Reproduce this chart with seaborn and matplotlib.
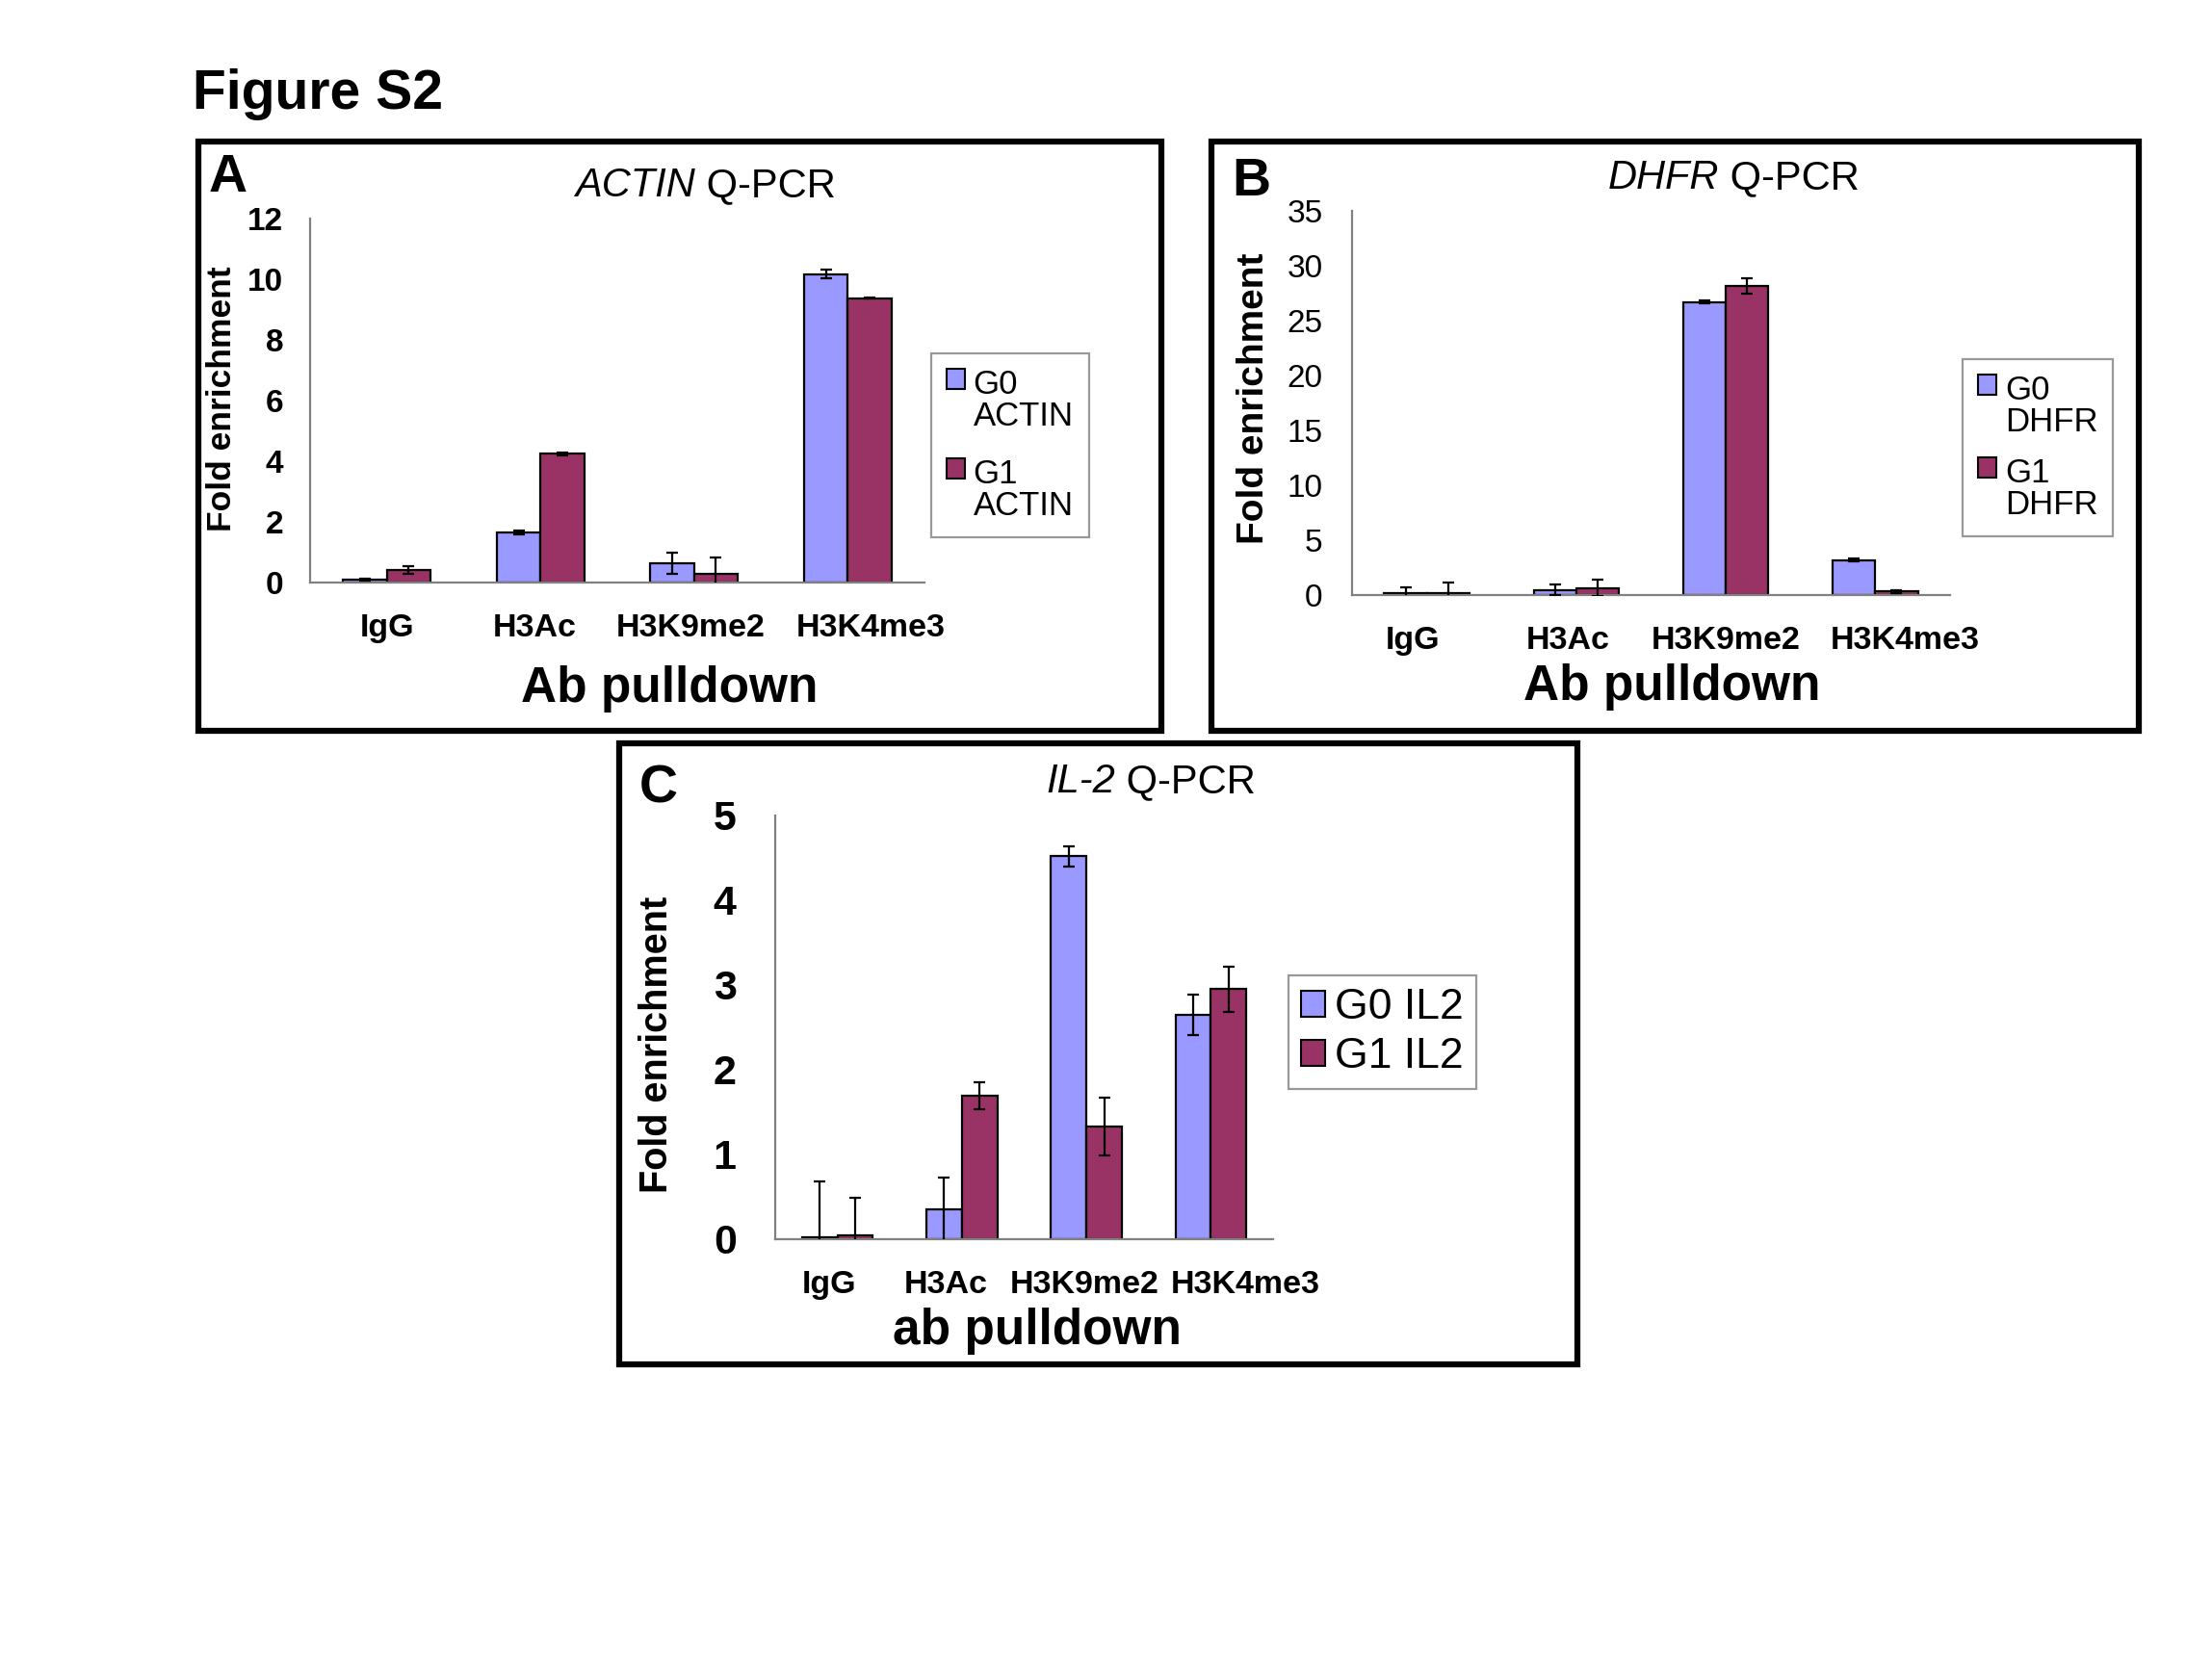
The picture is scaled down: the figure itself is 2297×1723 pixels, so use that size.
import numpy as np
import pandas as pd
import matplotlib
matplotlib.use("Agg")
import matplotlib.pyplot as plt
import matplotlib.transforms as mtrans
import seaborn as sns
from matplotlib.patches import Rectangle, Patch

sns.set_style("white")
plt.rcParams["font.family"] = ["Liberation Sans", "DejaVu Sans"]
plt.rcParams["text.color"] = "black"
plt.rcParams["axes.labelcolor"] = "black"
plt.rcParams["xtick.labelcolor"] = "black"
plt.rcParams["ytick.labelcolor"] = "black"

# ---------------- data ----------------
antibodies = ["IgG", "H3Ac", "H3K9me2", "H3K4me3"]
groups = ["G0", "G1"]

actin_g0 = [0.10, 1.65, 0.65, 10.17]
actin_g1 = [0.41, 4.25, 0.30, 9.38]
actin_g0_err = [0.04, 0.06, 0.35, 0.15]
actin_g1_err = [0.12, 0.05, 0.54, 0.03]

dhfr_g0 = [0.18, 0.48, 26.71, 3.20]
dhfr_g1 = [0.18, 0.63, 28.19, 0.33]
dhfr_g0_err = [0.55, 0.45, 0.10, 0.15]
dhfr_g1_err = [1.00, 0.73, 0.70, 0.12]

il2_g0 = [0.02, 0.35, 4.52, 2.65]
il2_g1 = [0.045, 1.69, 1.33, 2.95]
il2_g0_err = [0.66, 0.38, 0.12, 0.24]
il2_g1_err = [0.44, 0.16, 0.34, 0.27]

BLUE = "#9999FF"
MAROON = "#993366"

W, H = 2297, 1723
fig = plt.figure(figsize=(W / 100, H / 100), dpi=100)


def fx(x):
    return x / W


def fy(y):
    return 1 - y / H


def box(x0, y0, x1, y1):
    fig.add_artist(Rectangle((fx(x0), fy(y1)), fx(x1) - fx(x0), fy(y0) - fy(y1),
                             transform=fig.transFigure, fill=False,
                             edgecolor="black", linewidth=4.5))


def panel(ax_px, g0, g1, e0, e1, ymax, ystep, ytick_size, ytick_weight,
          ytick_pad, ylabel_size, ylabel_x, ylabel_y, xlabel, xlabel_size,
          xlabel_pos, label_shifts, leg_px, leg_labels, leg_size, multiline,
          leg_spacing):
    x0, y0, x1, y1 = ax_px
    ax = fig.add_axes([fx(x0), fy(y1), fx(x1) - fx(x0), fy(y0) - fy(y1)])
    df = pd.DataFrame({
        "antibody": antibodies * 2,
        "group": [groups[0]] * 4 + [groups[1]] * 4,
        "value": list(g0) + list(g1),
    })
    sns.barplot(data=df, x="antibody", y="value", hue="group", order=antibodies,
                hue_order=groups, palette=[BLUE, MAROON], width=0.57,
                edgecolor="black", linewidth=1.6, errorbar=None, ax=ax,
                legend=False, saturation=1)
    for cont, err in zip(ax.containers, [e0, e1]):
        xs = [b.get_x() + b.get_width() / 2 for b in cont]
        ys = [b.get_height() for b in cont]
        ax.errorbar(xs, ys, yerr=err, fmt="none", ecolor="black",
                    elinewidth=1.6, capsize=4.5, capthick=1.6, zorder=5)
    ax.set_xlim(-0.5, 3.5)
    ax.set_ylim(0, ymax)
    yt = np.arange(0, ymax + 0.001, ystep)
    ax.set_yticks(yt)
    ax.set_yticklabels([f"{v:g}" for v in yt], fontsize=ytick_size,
                       fontweight=ytick_weight)
    ax.set_xticks(range(4))
    ax.set_xticklabels(antibodies, fontsize=24.5, fontweight="bold")
    ax.set_xticks(np.arange(-0.5, 3.6, 1.0), minor=True)
    ax.tick_params(axis="x", which="major", length=0, pad=23)
    ax.tick_params(axis="x", which="minor", length=10, width=1.5,
                   color="#808080", direction="out")
    ax.tick_params(axis="y", length=9, width=1.5, color="#808080",
                   direction="out", pad=ytick_pad)
    # Excel spreads the long category labels a little; reproduce the offsets
    for tick, dx in zip(ax.xaxis.get_major_ticks(), label_shifts):
        lab = tick.label1
        lab.set_transform(lab.get_transform() +
                          mtrans.ScaledTranslation(dx / 100, 0,
                                                   fig.dpi_scale_trans))
    for s in ["top", "right"]:
        ax.spines[s].set_visible(False)
    for s in ["left", "bottom"]:
        ax.spines[s].set_color("#808080")
        ax.spines[s].set_linewidth(1.6)
    ax.set_ylabel("Fold enrichment", fontsize=ylabel_size, fontweight="bold")
    ax.yaxis.label.set_va("center")
    ax.yaxis.set_label_coords(fx(ylabel_x), fy(ylabel_y),
                              transform=fig.transFigure)
    ax.set_xlabel(xlabel, fontsize=xlabel_size, fontweight="bold")
    ax.xaxis.label.set_va("baseline")
    ax.xaxis.set_label_coords(fx(xlabel_pos[0]), fy(xlabel_pos[1]),
                              transform=fig.transFigure)
    handles = [Patch(facecolor=c, edgecolor="black", linewidth=1.5)
               for c in [BLUE, MAROON]]
    leg = ax.legend(handles, leg_labels, loc="upper left",
                    bbox_to_anchor=(fx(leg_px[0]), fy(leg_px[1])),
                    bbox_transform=fig.transFigure, borderaxespad=0,
                    fontsize=leg_size, frameon=True, fancybox=False,
                    handlelength=0.55, handleheight=0.55,
                    handletextpad=0.26 if multiline else 0.23,
                    labelspacing=leg_spacing,
                    borderpad=0.45 if multiline else 0.3)
    leg.get_frame().set_edgecolor("#808080")
    leg.get_frame().set_linewidth(1.6)
    if multiline:
        for col in leg._legend_handle_box.get_children():
            for item in col.get_children():
                item.align = "top"
        for t in leg.get_texts():
            t.set_linespacing(1.0)
    return ax


def title(split_x, baseline_y, ital, rest, size):
    fig.text(fx(split_x), fy(baseline_y), ital, ha="right", va="baseline",
             fontsize=size, style="italic")
    fig.text(fx(split_x), fy(baseline_y), rest, ha="left", va="baseline",
             fontsize=size)


# Figure heading
fig.text(fx(200), fy(113), "Figure S2", fontsize=41, fontweight="bold",
         ha="left", va="baseline")

# Panel frames
box(206, 147, 1206, 759)
box(1258, 147, 2221, 759)
box(643, 772, 1638, 1417)

# Panel letters
fig.text(fx(217), fy(199), "A", fontsize=40, fontweight="bold", va="baseline")
fig.text(fx(1279), fy(203), "B", fontsize=40, fontweight="bold", va="baseline")
fig.text(fx(664), fy(834), "C", fontsize=40, fontweight="bold", va="baseline")

# Titles
title(722, 204, "ACTIN", " Q-PCR", 30)
title(1785, 196, "DHFR", " Q-PCR", 30)
title(1158, 823, "IL-2", " Q-PCR", 30)

panel((322, 227, 960, 605), actin_g0, actin_g1, actin_g0_err, actin_g1_err,
      12, 2, 24, "bold", 11, 25.5, 230, 414, "Ab pulldown", 37, (695, 729),
      [0, -6, -4, 24],
      (967, 367), [f"{g}\nACTIN" for g in groups], 25, True, 0.8)

panel((1404, 219, 2025, 618), dhfr_g0, dhfr_g1, dhfr_g0_err, dhfr_g1_err,
      35, 5, 24, "normal", 13, 28, 1302, 414, "Ab pulldown", 37, (1736, 727),
      [-15, -9, 0, 31],
      (2038, 373), [f"{g}\nDHFR" for g in groups], 25, True, 0.6)

panel((805, 847, 1322, 1287), il2_g0, il2_g1, il2_g0_err, il2_g1_err,
      5, 1, 31, "bold", 20, 28.5, 682, 1085, "ab pulldown", 37, (1077, 1396),
      [-9, -17, -2, 36],
      (1338, 1013), [f"{g} IL2" for g in groups], 32, False, 0.22)

fig.savefig("out.png", dpi=100, facecolor="white")
